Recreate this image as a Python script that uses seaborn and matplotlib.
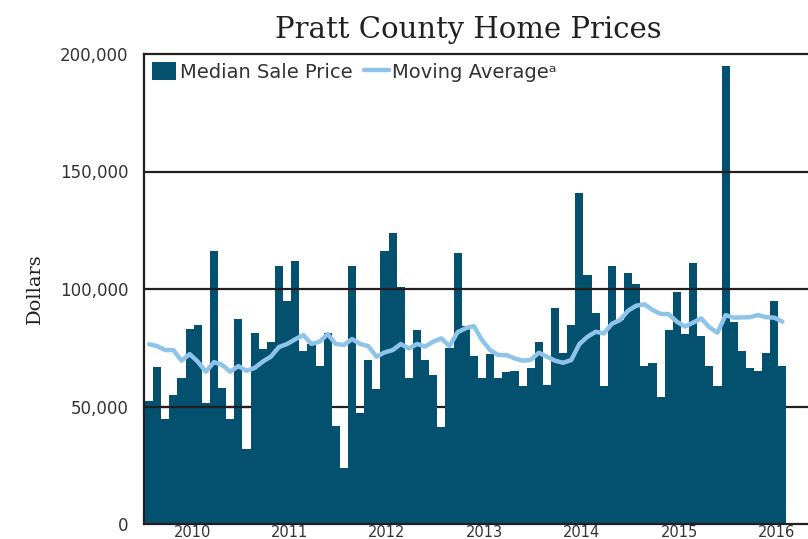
import numpy as np
import pandas as pd
import matplotlib
matplotlib.use("Agg")
import matplotlib.pyplot as plt
import seaborn as sns
from matplotlib.patches import Patch
from matplotlib.lines import Line2D

# ==========================
# data (monthly, Jan 2010 - Jul 2016)
# ==========================
years = ["2010", "2011", "2012", "2013", "2014", "2015", "2016"]

median_price = [
    52300, 66700, 44700, 54800, 62100, 83000, 84700, 51500, 116200, 57900, 44700, 87200,   # 2010
    32000, 81300, 74500, 77400, 109800, 94900, 111900, 73700, 76600, 67400, 81100, 41800,  # 2011
    24000, 109800, 47400, 69800, 57400, 116200, 123800, 100800, 62100, 82500, 69800, 63400,  # 2012
    41300, 74900, 115500, 84400, 71600, 62100, 72300, 62100, 64700, 65100, 58700, 66400,  # 2013
    77400, 59100, 92000, 72800, 84700, 140800, 105900, 89900, 58700, 109800, 87000, 106900,  # 2014
    102000, 67200, 68500, 54000, 82500, 98700, 80800, 111000, 80000, 67200, 58700, 194900,  # 2015
    86000, 73600, 66400, 65100, 72800, 94900, 67200,  # 2016
]

moving_avg = [
    76500, 75700, 74000, 74000, 69500, 72300, 69100, 64800, 68900, 67700, 64800, 67200,
    65200, 66400, 69100, 71200, 75300, 76600, 78600, 80400, 76600, 77600, 80800, 76600,
    76200, 78700, 76600, 75700, 71200, 73000, 74000, 76600, 74700, 76600, 75500, 77600,
    79000, 75700, 81600, 83300, 84200, 78300, 74000, 71900, 71900, 70500, 69500, 69800,
    72900, 71200, 69500, 68600, 69800, 76600, 79700, 81800, 81100, 85200, 86800, 90800,
    92900, 93500, 91100, 89400, 89300, 86100, 84000, 85700, 87500, 83700, 81400, 88900,
    87800, 87900, 88000, 88900, 88000, 87800, 86100,
]

df = pd.DataFrame({
    "month": np.arange(len(median_price)),
    "price": median_price,
    "avg": moving_avg,
})

# ==========================
# style
# ==========================
sns.set_style("white")
plt.rcParams["font.family"] = ["DejaVu Sans"]

bar_color = "#03506f"
line_color = "#8fc4ea"
ink = "#231f20"
label_ink = "#333333"

fig = plt.figure(figsize=(8.08, 5.39), dpi=100)
ax = fig.add_axes([144 / 808, 1 - 524 / 539, (808 - 144) / 808, (524 - 54) / 539])

# ==========================
# plot
# ==========================
sns.barplot(data=df, x="month", y="price", color=bar_color, width=1.0,
            saturation=1, linewidth=0, ax=ax, zorder=2)
sns.lineplot(data=df, x="month", y="avg", color=line_color, linewidth=3.2,
             ax=ax, zorder=4)

# horizontal rules
ax.axhline(50000, color=ink, lw=1.6, zorder=1)
ax.axhline(50000, xmin=0, xmax=0.16, color=ink, lw=1.6, zorder=3)
for v in [100000, 150000]:
    ax.axhline(v, color=ink, lw=1.6, zorder=3)

ax.set_xlim(-0.62, 81.15)
ax.set_ylim(0, 200000)

# spines
for side in ["left", "bottom", "top"]:
    ax.spines[side].set_color(ink)
    ax.spines[side].set_linewidth(1.6)
ax.spines["right"].set_visible(False)

# y axis
ax.set_yticks([0, 50000, 100000, 150000, 200000])
ax.set_yticklabels(["0", "50,000", "100,000", "150,000", "200,000"])
ax.tick_params(axis="y", length=0, pad=11, labelsize=12, labelcolor=label_ink)
ax.set_ylabel("Dollars", family="DejaVu Serif", fontsize=14, color=ink, labelpad=12)

# x axis: tick marks at year boundaries, labels mid-year
ax.set_xticks([-0.5 + 12 * i for i in range(7)])
ax.set_xticklabels([])
ax.set_xticks([5.3 + 12 * i for i in range(7)], minor=True)
ax.set_xticklabels(years, minor=True)
ax.tick_params(axis="x", which="major", direction="inout", length=9, width=1.4, color=ink)
ax.tick_params(axis="x", which="minor", length=0, pad=0.5, labelsize=10.5, labelcolor=label_ink)
ax.set_xlabel("")

# legend
handles = [
    Patch(facecolor=bar_color, edgecolor="none"),
    Line2D([0], [0], color=line_color, lw=3.2),
]
leg = ax.legend(handles, ["Median Sale Price", "Moving Averageᵃ"],
                loc="upper left", bbox_to_anchor=(0, 1), ncol=2, frameon=False,
                fontsize=14, handlelength=1.25, handleheight=1.1,
                handletextpad=0.2, columnspacing=0.6, borderaxespad=0.2,
                borderpad=0.2)
for t in leg.get_texts():
    t.set_color(label_ink)

fig.text(468 / 808, 1 - 30 / 539, "Pratt County Home Prices", ha="center", va="center",
         family="DejaVu Serif", fontsize=21, color=ink)

plt.savefig("out.png", dpi=100)
